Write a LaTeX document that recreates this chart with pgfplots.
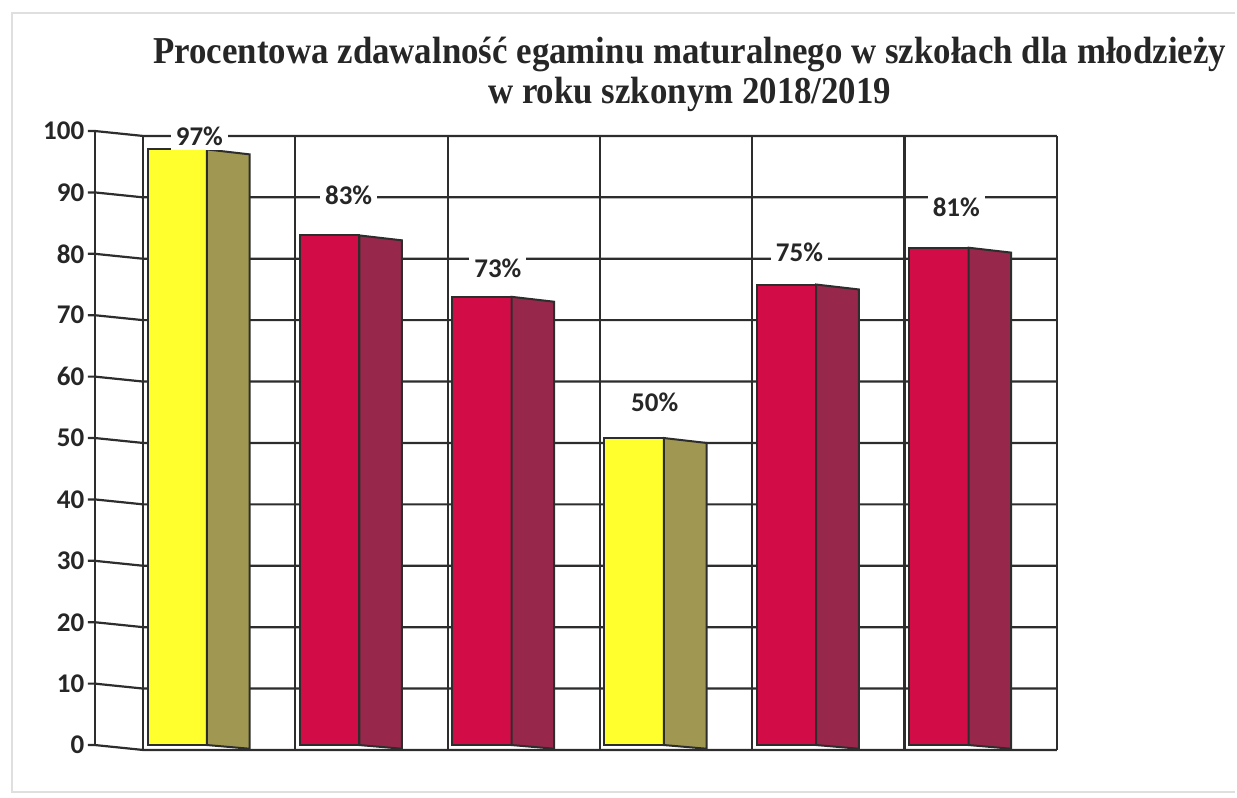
\documentclass[border=0pt]{standalone}
\usepackage{pgfplots}
\pgfplotsset{compat=1.18}
\usepackage{fontspec}
\usepackage{graphicx}
\setmainfont{Liberation Serif}
\newfontfamily\carl{Carlito}
\definecolor{yellowF}{RGB}{255,255,45}
\definecolor{oliveS}{RGB}{160,152,82}
\definecolor{redF}{RGB}{210,12,70}
\definecolor{maroonS}{RGB}{152,40,75}
\definecolor{edge}{RGB}{45,45,45}
\begin{document}
\begin{tikzpicture}
\begin{axis}[
  x=76.15pt, y=3.07pt,
  xmin=-0.939, xmax=7.183, ymin=-8.469, ymax=121.34,
  hide axis, clip=false,
]
% bounding box and faint frame
\path (axis cs:-0.939,-8.469) rectangle (axis cs:7.183,121.34);
\draw[gray!25, line width=1.2pt] (axis cs:7.17,119.2) -- (axis cs:-0.86,119.2) -- (axis cs:-0.86,-7.65) -- (axis cs:7.17,-7.65);
% front axis and ticks
\draw[edge, line width=1.1pt] (axis cs:-0.315,0) -- (axis cs:-0.315,100);
\pgfplotsinvokeforeach{0,10,...,100}{
  \draw[edge, line width=1.1pt] (axis cs:-0.362,#1) -- (axis cs:-0.315,#1) -- ([yshift=-2.456pt]axis cs:0,#1) -- ([yshift=-2.456pt]axis cs:6,#1);
  \node[anchor=east, font=\carl\bfseries\fontsize{13.5}{15}\selectfont, text=black!85, inner sep=1pt] at (axis cs:-0.37,#1) {#1};
}
\pgfplotsinvokeforeach{0,1,...,6}{
  \draw[edge, line width=1.1pt] ([yshift=-2.456pt]axis cs:#1,0) -- ([yshift=-2.456pt]axis cs:#1,100);
}
% bars: front faces and side faces
\addplot[fill=yellowF, draw=edge, line width=1pt] coordinates {(0.03,0) (0.03,97) (0.42,97) (0.42,0)} -- cycle;
\addplot[fill=oliveS, draw=edge, line width=1pt] coordinates {(0.42,0) (0.42,97) (0.70,96.2) (0.70,-0.6)} -- cycle;
\addplot[fill=redF, draw=edge, line width=1pt] coordinates {(1.03,0) (1.03,83) (1.42,83) (1.42,0)} -- cycle;
\addplot[fill=maroonS, draw=edge, line width=1pt] coordinates {(1.42,0) (1.42,83) (1.70,82.2) (1.70,-0.6)} -- cycle;
\addplot[fill=redF, draw=edge, line width=1pt] coordinates {(2.03,0) (2.03,73) (2.42,73) (2.42,0)} -- cycle;
\addplot[fill=maroonS, draw=edge, line width=1pt] coordinates {(2.42,0) (2.42,73) (2.70,72.2) (2.70,-0.6)} -- cycle;
\addplot[fill=yellowF, draw=edge, line width=1pt] coordinates {(3.03,0) (3.03,50) (3.42,50) (3.42,0)} -- cycle;
\addplot[fill=oliveS, draw=edge, line width=1pt] coordinates {(3.42,0) (3.42,50) (3.70,49.2) (3.70,-0.6)} -- cycle;
\addplot[fill=redF, draw=edge, line width=1pt] coordinates {(4.03,0) (4.03,75) (4.42,75) (4.42,0)} -- cycle;
\addplot[fill=maroonS, draw=edge, line width=1pt] coordinates {(4.42,0) (4.42,75) (4.70,74.2) (4.70,-0.6)} -- cycle;
\addplot[fill=redF, draw=edge, line width=1pt] coordinates {(5.03,0) (5.03,81) (5.42,81) (5.42,0)} -- cycle;
\addplot[fill=maroonS, draw=edge, line width=1pt] coordinates {(5.42,0) (5.42,81) (5.70,80.2) (5.70,-0.6)} -- cycle;
% value labels
\begin{scope}[every node/.style={fill=white, inner sep=2.5pt, font=\carl\bfseries\fontsize{13.5}{15}\selectfont, text=black!85}]
\node at (axis cs:0.37,99.2) {97\%};
\node at (axis cs:1.35,89.6) {83\%};
\node at (axis cs:2.33,77.7) {73\%};
\node at (axis cs:3.36,55.9) {50\%};
\node at (axis cs:4.31,80.3) {75\%};
\node at (axis cs:5.34,87.5) {81\%};
\end{scope}
% title
\node[inner sep=0pt, font=\bfseries\fontsize{19}{20}\selectfont, text=black!85] at (axis cs:3.59,109.1)
  {\scalebox{0.917}[1]{\begin{tabular}{@{}c@{}}Procentowa zdawalność egaminu maturalnego w szkołach dla młodzieży\\ w roku szkonym 2018/2019\end{tabular}}};
\end{axis}
\end{tikzpicture}
\end{document}
